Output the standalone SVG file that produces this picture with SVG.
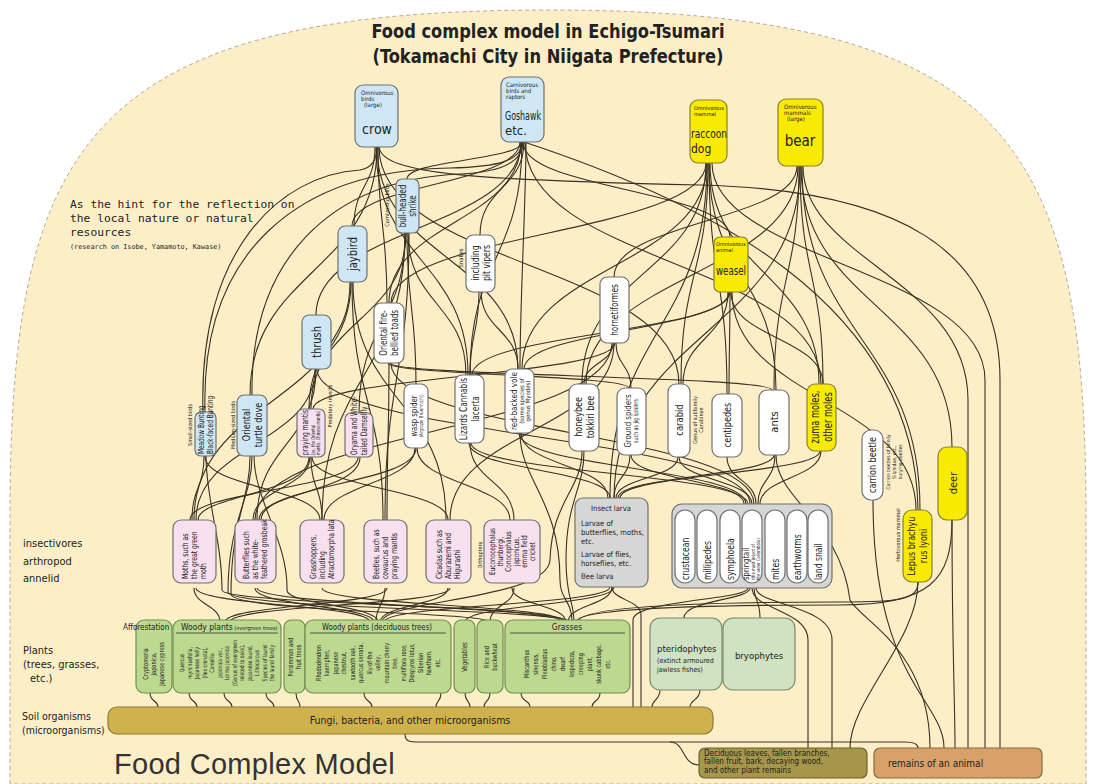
<svg xmlns="http://www.w3.org/2000/svg" width="1095" height="784" viewBox="0 0 1095 784">
<style>
.c{fill:none;stroke:#3a3122;stroke-width:1.1}
.n{stroke:#707070;stroke-width:1.2}
.blue{fill:#cfe6f4}
.yel{fill:#f8ea00;stroke:#8a8030}
.pink{fill:#f8e0f0}
.wht{fill:#ffffff}
.gry{fill:#d6d6d6}
.grn{fill:#bcd98f;stroke:#6f8f4f;stroke-width:1.2}
.pg{fill:#cfe3c3;stroke:#7a8a6a;stroke-width:1.2}
.t{font-family:"DejaVu Sans Condensed","Liberation Sans",sans-serif;fill:#222}
.m{font-family:"DejaVu Sans Mono","Liberation Mono",monospace;fill:#222}
.ul{stroke:#4a5a3a;stroke-width:1}
</style>
<rect width="1095" height="784" fill="#ffffff"/>
<path d="M10,784 L10,520 C10,150 80,10 548,10 C1016,10 1086,150 1086,520 L1086,784 Z" fill="#fcefc8" stroke="#b5ab98" stroke-dasharray="4 3"/>

<g id="title">
<text class="t" x="548" y="38" font-size="19" font-weight="bold" text-anchor="middle" textLength="353" lengthAdjust="spacingAndGlyphs">Food complex model in Echigo-Tsumari</text>
<text class="t" x="548" y="63" font-size="19" font-weight="bold" text-anchor="middle" textLength="351" lengthAdjust="spacingAndGlyphs">(Tokamachi City in Niigata Prefecture)</text>
</g>
<g id="hint">
<text class="m" x="70" y="208" font-size="11.3">As the hint for the reflection on</text>
<text class="m" x="70" y="222" font-size="11.3">the local nature or natural</text>
<text class="m" x="70" y="236" font-size="11.3">resources</text>
<text class="m" x="70" y="249" font-size="6.8">(research on Isobe, Yamamoto, Kawase)</text>
</g>
<g id="row-labels">
<text class="t" x="23" y="547" font-size="11">insectivores</text>
<text class="t" x="23" y="565" font-size="11">arthropod</text>
<text class="t" x="23" y="582" font-size="11">annelid</text>
<text class="t" x="23" y="654" font-size="11">Plants</text>
<text class="t" x="23" y="668" font-size="11">(trees, grasses,</text>
<text class="t" x="30" y="682" font-size="11">etc.)</text>
<text class="t" x="22" y="720" font-size="10.5">Soil organisms</text>
<text class="t" x="22" y="734" font-size="10.5">(microorganisms)</text>
<text x="114" y="774" font-family="Liberation Sans, sans-serif" font-size="29" fill="#333" letter-spacing="0.3">Food Complex Model</text>
</g>

<g id="connectors">
<path class="c" d="M407,179 C407,160 522,160 522,142"/>
<path class="c" d="M352,226 C352,184 520,184 520,142"/>
<path class="c" d="M316,315 C316,228 521,228 521,142"/>
<path class="c" d="M205,412 C200,250 300,170 450,168 C500,167 522,160 522,142"/>
<path class="c" d="M252,395 C250,260 330,180 460,174 C505,172 523,160 523,142"/>
<path class="c" d="M480,235 C480,188 524,188 524,142"/>
<path class="c" d="M520,369 C520,300 526,200 526,142"/>
<path class="c" d="M821,384 C821,263 525,263 525,142"/>
<path class="c" d="M918,510 C915,300 700,200 524,142"/>
<path class="c" d="M389,303 C389,222 521,222 521,142"/>
<path class="c" d="M730,237 C730,190 523,190 523,142"/>
<path class="c" d="M470,375 C470,258 522,258 522,142"/>
<path class="c" d="M203,412 C198,250 280,175 360,170 C372,168 377,160 377,147"/>
<path class="c" d="M250,395 C250,271 377,271 377,147"/>
<path class="c" d="M387,303 C387,225 378,225 378,147"/>
<path class="c" d="M468,375 C468,261 376,261 376,147"/>
<path class="c" d="M518,369 C518,258 377,258 377,147"/>
<path class="c" d="M354,226 C354,186 375,186 375,147"/>
<path class="c" d="M679,384 C679,265 379,265 379,147"/>
<path class="c" d="M1000,748 L1000,380 C1000,250 900,190 700,185 C480,180 382,175 379,147"/>
<path class="c" d="M391,303 C391,233 706,233 706,163"/>
<path class="c" d="M522,369 C522,266 707,266 707,163"/>
<path class="c" d="M681,384 C681,273 708,273 708,163"/>
<path class="c" d="M727,394 C727,278 709,278 709,163"/>
<path class="c" d="M819,384 C819,273 710,273 710,163"/>
<path class="c" d="M610,498 C610,330 707,330 707,163"/>
<path class="c" d="M582,384 C582,273 706,273 706,163"/>
<path class="c" d="M776,390 C776,276 709,276 709,163"/>
<path class="c" d="M985,748 L985,380 C985,270 712,260 712,163"/>
<path class="c" d="M586,384 C586,275 798,275 798,166"/>
<path class="c" d="M774,390 C774,278 799,278 799,166"/>
<path class="c" d="M614,498 C614,332 800,332 800,166"/>
<path class="c" d="M952,447 C952,306 801,306 801,166"/>
<path class="c" d="M920,510 C920,338 802,338 802,166"/>
<path class="c" d="M614,277 C614,221 797,221 797,166"/>
<path class="c" d="M823,384 C823,275 800,275 800,166"/>
<path class="c" d="M968,748 L968,400 C968,280 803,260 803,166"/>
<path class="c" d="M524,369 C524,330 729,330 729,292"/>
<path class="c" d="M472,375 C472,333 730,333 730,292"/>
<path class="c" d="M823,384 C823,338 731,338 731,292"/>
<path class="c" d="M729,394 C729,343 730,343 730,292"/>
<path class="c" d="M683,384 C683,338 728,338 728,292"/>
<path class="c" d="M916,510 C916,400 732,400 732,292"/>
<path class="c" d="M466,375 C466,304 408,304 408,233"/>
<path class="c" d="M311,409 C311,321 406,321 406,233"/>
<path class="c" d="M322,520 C322,376 405,376 405,233"/>
<path class="c" d="M385,520 C385,376 409,376 409,233"/>
<path class="c" d="M416,384 C416,308 407,308 407,233"/>
<path class="c" d="M359,413 C359,323 405,323 405,233"/>
<path class="c" d="M383,520 C383,401 352,401 352,282"/>
<path class="c" d="M446,520 C446,401 353,401 353,282"/>
<path class="c" d="M194,520 C194,401 351,401 351,282"/>
<path class="c" d="M309,409 C309,345 350,345 350,282"/>
<path class="c" d="M518,369 C518,330 481,330 481,291"/>
<path class="c" d="M470,375 C470,333 479,333 479,291"/>
<path class="c" d="M584,384 C584,363 613,363 613,343"/>
<path class="c" d="M255,520 C255,431 612,431 612,343"/>
<path class="c" d="M450,520 C450,431 614,431 614,343"/>
<path class="c" d="M313,409 C313,376 615,376 615,343"/>
<path class="c" d="M631,388 C631,365 616,365 616,343"/>
<path class="c" d="M196,520 C196,444 315,444 315,369"/>
<path class="c" d="M257,520 C257,444 316,444 316,369"/>
<path class="c" d="M750,504 C750,436 317,436 317,369"/>
<path class="c" d="M772,390 C772,376 390,376 390,363"/>
<path class="c" d="M629,388 C629,375 388,375 388,363"/>
<path class="c" d="M387,520 C387,441 389,441 389,363"/>
<path class="c" d="M754,504 C754,433 391,433 391,363"/>
<path class="c" d="M320,520 C320,488 205,488 205,456"/>
<path class="c" d="M568,622 C568,605 222,605 222,590 C222,540 206,500 206,456"/>
<path class="c" d="M192,520 C192,488 204,488 204,456"/>
<path class="c" d="M570,622 C570,609 228,609 228,592 C228,520 252,500 252,456"/>
<path class="c" d="M490,622 C490,612 231,612 231,594 C231,520 250,500 250,456"/>
<path class="c" d="M378,622 C378,605 286,605 287,590 C288,540 254,500 254,456"/>
<path class="c" d="M253,520 C253,488 310,488 310,457"/>
<path class="c" d="M322,520 C322,488 311,488 311,457"/>
<path class="c" d="M448,520 C448,488 312,488 312,457"/>
<path class="c" d="M198,520 C198,495 309,495 309,457"/>
<path class="c" d="M190,520 C190,490 358,490 358,457"/>
<path class="c" d="M259,520 C259,492 360,492 360,457"/>
<path class="c" d="M324,520 C324,484 415,484 415,448"/>
<path class="c" d="M261,520 C261,484 416,484 416,448"/>
<path class="c" d="M510,520 C510,484 417,484 417,448"/>
<path class="c" d="M514,520 C514,481 470,481 470,443"/>
<path class="c" d="M748,504 C748,473 471,473 471,443"/>
<path class="c" d="M610,498 C610,470 469,470 469,443"/>
<path class="c" d="M572,622 C572,600 560,600 560,580 C560,500 520,480 520,433"/>
<path class="c" d="M608,498 C608,465 521,465 521,433"/>
<path class="c" d="M746,504 C746,468 519,468 519,433"/>
<path class="c" d="M574,622 C574,600 566,600 566,560 C566,500 584,490 584,451"/>
<path class="c" d="M382,622 C382,600 548,600 550,560 C552,500 582,490 582,451"/>
<path class="c" d="M744,504 C744,480 631,480 631,455"/>
<path class="c" d="M614,498 C614,477 630,477 630,455"/>
<path class="c" d="M752,504 C752,480 679,480 679,457"/>
<path class="c" d="M616,498 C616,478 678,478 678,457"/>
<path class="c" d="M756,504 C756,480 727,480 727,457"/>
<path class="c" d="M618,498 C618,476 774,476 774,455"/>
<path class="c" d="M758,504 C758,480 775,480 775,455"/>
<path class="c" d="M930,748 C930,650 860,620 850,600 C840,520 776,500 776,455"/>
<path class="c" d="M760,504 C760,478 821,478 821,451"/>
<path class="c" d="M620,498 C620,474 820,474 820,451"/>
<path class="c" d="M944,748 C944,700 873,680 873,500"/>
<path class="c" d="M576,622 C576,612 640,605 840,605 C930,605 952,580 952,520"/>
<path class="c" d="M955,748 C955,700 952,650 952,520"/>
<path class="c" d="M578,622 C578,610 650,602 840,602 C900,602 918,600 918,582"/>
<path class="c" d="M850,748 C850,700 918,640 918,582"/>
<path class="c" d="M220,622 C220,605 194,605 194,588"/>
<path class="c" d="M370,622 C370,605 196,605 196,588"/>
<path class="c" d="M374,622 C374,606 255,606 255,588"/>
<path class="c" d="M562,622 C562,606 257,606 257,588"/>
<path class="c" d="M564,622 C564,605 322,605 322,588"/>
<path class="c" d="M376,622 C376,605 385,605 385,588"/>
<path class="c" d="M225,622 C225,605 387,605 387,588"/>
<path class="c" d="M380,622 C380,605 448,605 448,588"/>
<path class="c" d="M230,622 C230,605 450,605 450,588"/>
<path class="c" d="M566,622 C566,605 512,605 512,588"/>
<path class="c" d="M490,622 C490,605 514,605 514,588"/>
<path class="c" d="M384,622 C384,605 610,605 610,587"/>
<path class="c" d="M568,622 C568,605 612,605 612,587"/>
<path class="c" d="M465,622 C465,605 614,605 614,587"/>
<path class="c" d="M684,618 C684,600 750,600 750,588"/>
<path class="c" d="M760,618 C760,600 754,600 754,588"/>
<path class="c" d="M808,748 L808,640 C808,610 752,610 752,588"/>
<path class="c" d="M832,748 L832,640 C832,605 756,605 756,588"/>
<path class="c" d="M633,707 L633,620 C633,600 748,600 748,588"/>
<path class="c" d="M641,707 L641,615 C641,600 612,600 612,587"/>
<path class="c" d="M150,693 C150,702 158,700 158,707"/>
<path class="c" d="M189,693 C189,702 197,700 197,707"/>
<path class="c" d="M224,693 C224,702 232,700 232,707"/>
<path class="c" d="M266,693 C266,702 274,700 274,707"/>
<path class="c" d="M296,693 C296,702 300,700 300,707"/>
<path class="c" d="M364,693 C364,702 372,700 372,707"/>
<path class="c" d="M441,693 C441,702 436,700 436,707"/>
<path class="c" d="M465,693 C465,702 470,700 470,707"/>
<path class="c" d="M490,693 C490,702 484,700 484,707"/>
<path class="c" d="M521,693 C521,702 530,700 530,707"/>
<path class="c" d="M600,693 C600,702 592,700 592,707"/>
<path class="c" d="M660,690 C660,700 652,700 652,707"/>
<path class="c" d="M700,690 C700,700 690,700 690,707"/>
<path class="c" d="M405,734 C405,742 410,742 420,742 L905,742 C915,742 918,745 918,748"/>
<path class="c" d="M670,742 C685,742 682,765 699,765"/>
</g>

<g id="crow"><rect class="n blue" x="355" y="85" width="43" height="62" rx="8"/>
<text class="t" font-size="6"><tspan x="361" y="95">Omnivorous</tspan><tspan x="361" y="101">birds</tspan><tspan x="364" y="107">(large)</tspan></text>
<text class="t" x="377" y="134" font-size="14" text-anchor="middle">crow</text></g>
<g id="goshawk"><rect class="n blue" x="501" y="77" width="43" height="65" rx="8"/>
<text class="t" font-size="6"><tspan x="506" y="87">Carnivorous</tspan><tspan x="506" y="93">birds and</tspan><tspan x="506" y="99">raptors</tspan></text>
<text class="t" x="505" y="120" font-size="13" textLength="36" lengthAdjust="spacingAndGlyphs">Goshawk</text>
<text class="t" x="505" y="135" font-size="13">etc.</text></g>
<g id="raccoon-dog"><rect class="n yel" x="690" y="100" width="37" height="63" rx="8"/>
<text class="t" font-size="5.5"><tspan x="694" y="110">Omnivorous</tspan><tspan x="694" y="116">mammal</tspan></text>
<text class="t" x="691" y="138" font-size="12" textLength="36" lengthAdjust="spacingAndGlyphs">raccoon</text>
<text class="t" x="691" y="153" font-size="12">dog</text></g>
<g id="bear"><rect class="n yel" x="778" y="99" width="45" height="67" rx="8"/>
<text class="t" font-size="6"><tspan x="784" y="109">Omnivorous</tspan><tspan x="784" y="115">mammals</tspan><tspan x="787" y="121">(large)</tspan></text>
<text class="t" x="800" y="146" font-size="15" text-anchor="middle">bear</text></g>
<g id="weasel"><rect class="n yel" x="714" y="237" width="34" height="55" rx="6"/>
<text class="t" font-size="5.5"><tspan x="716" y="246">Omnivorous</tspan><tspan x="716" y="252">animal</tspan></text>
<text class="t" x="716" y="275" font-size="12" textLength="30" lengthAdjust="spacingAndGlyphs">weasel</text></g>

<g id="shrike"><rect class="n blue" x="396" y="179" width="23" height="54" rx="6"/>
<text class="t" font-size="10" text-anchor="middle" transform="translate(407.5,206) rotate(-90) scale(0.8,1)"><tspan x="0" y="-2">bull-headed</tspan><tspan x="0" y="9">shrike</tspan></text>
<text class="t" font-size="5.5" text-anchor="middle" transform="translate(389,205) rotate(-90)">Carnivorous birds</text></g>
<g id="jaybird"><rect class="n blue" x="338" y="226" width="29" height="56" rx="7"/>
<text class="t" font-size="13" text-anchor="middle" transform="translate(352.5,254) rotate(-90) scale(0.85,1)" y="4.5">jaybird</text></g>
<g id="pit-vipers"><rect class="n wht" x="466" y="235" width="29" height="57" rx="7"/>
<text class="t" font-size="10.5" text-anchor="middle" transform="translate(480.5,263) rotate(-90) scale(0.82,1)"><tspan x="0" y="-2">including</tspan><tspan x="0" y="9.5">pit vipers</tspan></text>
<text class="t" font-size="6" text-anchor="middle" transform="translate(461,258) rotate(-90)" y="2">Snakes</text></g>
<g id="hornetiformes"><rect class="n wht" x="600" y="277" width="29" height="66" rx="7"/>
<text class="t" font-size="10" text-anchor="middle" transform="translate(614.5,310) rotate(-90) scale(0.82,1)" y="3.5">hornetiformes</text></g>
<g id="thrush"><rect class="n blue" x="302" y="315" width="29" height="54" rx="7"/>
<text class="t" font-size="13" text-anchor="middle" transform="translate(316.5,342) rotate(-90) scale(0.85,1)" y="4.5">thrush</text></g>
<g id="toads"><rect class="n wht" x="374" y="303" width="30" height="60" rx="7"/>
<text class="t" font-size="10" text-anchor="middle" transform="translate(389,333) rotate(-90) scale(0.8,1)"><tspan x="0" y="-2">Oriental fire-</tspan><tspan x="0" y="9">bellied toads</tspan></text></g>
<g id="buntings"><rect class="n blue" x="195" y="412" width="21" height="44" rx="6"/>
<text class="t" font-size="8.5" transform="translate(205.5,454) rotate(-90) scale(0.76,1)"><tspan x="0" y="-1.5">Meadow Bunting</tspan><tspan x="0" y="8">Black-faced Bunting</tspan></text>
<text class="t" font-size="5.5" text-anchor="middle" transform="translate(190,425) rotate(-90)" y="2">Small-sized birds</text></g>
<g id="turtle-dove"><rect class="n blue" x="237" y="395" width="30" height="61" rx="7"/>
<text class="t" font-size="11" text-anchor="middle" transform="translate(252,425) rotate(-90) scale(0.82,1)"><tspan x="0" y="-2.2">Oriental</tspan><tspan x="0" y="9.8">turtle dove</tspan></text>
<text class="t" font-size="5.5" text-anchor="middle" transform="translate(233,425) rotate(-90)" y="2">Medium-sized birds</text></g>
<g id="praying-mantis"><rect class="n pink" x="297" y="409" width="28" height="48" rx="6"/>
<text class="t" transform="translate(311,455) rotate(-90) scale(0.74,1)"><tspan x="0" y="-3" font-size="9">praying mantis</tspan><tspan x="0" y="3.5" font-size="5.5">(ex. the Oriental</tspan><tspan x="0" y="9.5" font-size="5.5">mantis, Chinese mantis)</tspan></text>
<text class="t" font-size="5.5" text-anchor="middle" transform="translate(330,406) rotate(-90)" y="2">Predatory insects</text></g>
<g id="damselfly"><rect class="n pink" x="345" y="413" width="28" height="44" rx="6"/>
<text class="t" font-size="9" transform="translate(359,455) rotate(-90) scale(0.74,1)"><tspan x="0" y="-2">Oryama and White-</tspan><tspan x="0" y="8">tailed Damselfly</tspan></text></g>
<g id="wasp-spider"><rect class="n wht" x="404" y="384" width="24" height="64" rx="7"/>
<text class="t" text-anchor="middle" transform="translate(416,416) rotate(-90) scale(0.85,1)"><tspan x="0" y="0.5" font-size="9">wasp spider</tspan><tspan x="0" y="7" font-size="5.5">(Argiope Bruennichi)</tspan></text></g>
<g id="lizards"><rect class="n wht" x="455" y="375" width="29" height="68" rx="7"/>
<text class="t" font-size="10.5" text-anchor="middle" transform="translate(469.5,409) rotate(-90) scale(0.78,1)"><tspan x="0" y="-2.3">Lizards Cannabis</tspan><tspan x="0" y="9.7">lacerta</tspan></text></g>
<g id="red-backed-vole"><rect class="n wht" x="505" y="369" width="29" height="64" rx="7"/>
<text class="t" text-anchor="middle" transform="translate(519.5,401) rotate(-90)"><tspan x="0" y="-3" font-size="9.5" textLength="58" lengthAdjust="spacingAndGlyphs">red-backed vole</tspan><tspan x="0" y="4" font-size="6">(some species of</tspan><tspan x="0" y="10" font-size="6">genus Myodes)</tspan></text></g>
<g id="honeybee"><rect class="n wht" x="569" y="384" width="30" height="67" rx="8"/>
<text class="t" font-size="10.5" text-anchor="middle" transform="translate(584,417) rotate(-90) scale(0.85,1)"><tspan x="0" y="-2.3">honeybee</tspan><tspan x="0" y="9.7">tokkiri bee</tspan></text></g>
<g id="ground-spiders"><rect class="n wht" x="617" y="388" width="29" height="67" rx="8"/>
<text class="t" text-anchor="middle" transform="translate(631.5,421) rotate(-90) scale(0.82,1)"><tspan x="0" y="-1" font-size="9.5">Ground spiders</tspan><tspan x="0" y="7" font-size="6.5">such as jig spiders</tspan></text></g>
<g id="carabid"><rect class="n wht" x="668" y="384" width="22" height="73" rx="8"/>
<text class="t" font-size="11" text-anchor="middle" transform="translate(679,420) rotate(-90) scale(0.85,1)" y="4">carabid</text>
<text class="t" font-size="5.5" text-anchor="middle" transform="translate(697,420) rotate(-90)"><tspan x="0" y="0">Genus of subfamily</tspan><tspan x="0" y="6">Carabinae</tspan></text></g>
<g id="centipedes"><rect class="n wht" x="712" y="394" width="30" height="63" rx="8"/>
<text class="t" font-size="11" text-anchor="middle" transform="translate(727,425) rotate(-90) scale(0.82,1)" y="4">centipedes</text></g>
<g id="ants"><rect class="n wht" x="759" y="390" width="30" height="65" rx="8"/>
<text class="t" font-size="11" text-anchor="middle" transform="translate(774,422) rotate(-90)" y="4">ants</text></g>
<g id="moles"><rect class="n yel" x="807" y="384" width="29" height="67" rx="8"/>
<text class="t" font-size="11.5" text-anchor="middle" transform="translate(821.5,417) rotate(-90) scale(0.8,1)"><tspan x="0" y="-2.2">zuma moles,</tspan><tspan x="0" y="10.3">other moles</tspan></text></g>
<g id="carrion-beetle"><rect class="n wht" x="862" y="430" width="21" height="70" rx="9"/>
<text class="t" font-size="10.5" text-anchor="middle" transform="translate(872.5,465) rotate(-90) scale(0.85,1)" y="3.7">carrion beetle</text>
<text class="t" font-size="5" text-anchor="middle" transform="translate(890,462) rotate(-90)"><tspan x="0" y="0">Carrion beetles of family</tspan><tspan x="0" y="6">Silphidae, etc.,</tspan><tspan x="0" y="12">burying beetles</tspan></text></g>
<g id="deer"><rect class="n yel" x="938" y="447" width="29" height="73" rx="9"/>
<text class="t" font-size="11" text-anchor="middle" transform="translate(952.5,483) rotate(-90)" y="4">deer</text></g>
<g id="lepus"><rect class="n yel" x="903" y="510" width="29" height="72" rx="9"/>
<text class="t" font-size="10.5" text-anchor="middle" transform="translate(917.5,546) rotate(-90) scale(0.85,1)"><tspan x="0" y="-2.2">Lepus brachyu</tspan><tspan x="0" y="9.8">rus lyoni</tspan></text>
<text class="t" font-size="5.5" text-anchor="middle" transform="translate(898,535) rotate(-90)" y="2">Herbivorous mammal</text></g>

<g id="moths"><rect class="n pink" x="173" y="520" width="43" height="63" rx="8"/>
<text class="t" font-size="8.5" transform="translate(194.5,579) rotate(-90) scale(0.8,1)"><tspan x="0" y="-6.2">Moths, such as</tspan><tspan x="0" y="2.8">the great green</tspan><tspan x="0" y="11.8">moth</tspan></text></g>
<g id="butterflies"><rect class="n pink" x="235" y="520" width="41" height="63" rx="8"/>
<text class="t" font-size="8.5" transform="translate(255.5,579) rotate(-90) scale(0.8,1)"><tspan x="0" y="-6.2">Butterflies such</tspan><tspan x="0" y="2.8">as the white-</tspan><tspan x="0" y="11.8">feathered grosbeak</tspan></text></g>
<g id="grasshoppers"><rect class="n pink" x="300" y="520" width="44" height="63" rx="8"/>
<text class="t" font-size="8.5" transform="translate(322,579) rotate(-90) scale(0.8,1)"><tspan x="0" y="-6.2">Grasshoppers,</tspan><tspan x="0" y="2.8">including</tspan><tspan x="0" y="11.8">Atractomorpha lata</tspan></text></g>
<g id="beetles"><rect class="n pink" x="364" y="520" width="43" height="63" rx="8"/>
<text class="t" font-size="8.5" transform="translate(385.5,579) rotate(-90) scale(0.8,1)"><tspan x="0" y="-6.2">Beetles, such as</tspan><tspan x="0" y="2.8">cowaurus and</tspan><tspan x="0" y="11.8">praying mantis</tspan></text></g>
<g id="cicadas"><rect class="n pink" x="426" y="520" width="45" height="63" rx="8"/>
<text class="t" font-size="8.5" transform="translate(448.5,579) rotate(-90) scale(0.8,1)"><tspan x="0" y="-6.2">Cicadas such as</tspan><tspan x="0" y="2.8">Aburazemi and</tspan><tspan x="0" y="11.8">Higurashi</tspan></text></g>
<g id="orthoptera"><rect class="n pink" x="484" y="520" width="56" height="63" rx="8"/>
<text class="t" font-size="8" text-anchor="middle" transform="translate(512,551.5) rotate(-90) scale(0.8,1)"><tspan x="0" y="-17.4">Euconocephalus</tspan><tspan x="0" y="-9.4">thunbergi,</tspan><tspan x="0" y="-1.4">Conocephalus</tspan><tspan x="0" y="6.6">japonicus,</tspan><tspan x="0" y="14.6">emma field</tspan><tspan x="0" y="22.6">cricket</tspan></text>
<text class="t" font-size="5.5" text-anchor="middle" transform="translate(480,555) rotate(-90)" y="2">Orthoptera</text></g>

<g id="insect-larva"><rect class="n gry" x="575" y="498" width="73" height="89" rx="8"/>
<text class="t" font-size="7.6"><tspan x="611" y="511" text-anchor="middle">Insect larva</tspan><tspan x="581" y="526">Larvae of</tspan><tspan x="581" y="535">butterflies, moths,</tspan><tspan x="581" y="544">etc.</tspan><tspan x="581" y="557">Larvae of flies,</tspan><tspan x="581" y="566">horseflies, etc.</tspan><tspan x="581" y="579">Bee larva</tspan></text></g>

<g id="soil-animals"><rect class="n gry" x="672" y="504" width="160" height="84" rx="10"/>
<rect class="n wht" x="675" y="510" width="20" height="73" rx="10"/>
<rect class="n wht" x="697" y="510" width="20" height="73" rx="10"/>
<rect class="n wht" x="720" y="510" width="20" height="73" rx="10"/>
<rect class="n wht" x="742" y="510" width="20" height="73" rx="10"/>
<rect class="n wht" x="765" y="510" width="20" height="73" rx="10"/>
<rect class="n wht" x="787" y="510" width="20" height="73" rx="10"/>
<rect class="n wht" x="808" y="510" width="20" height="73" rx="10"/>
<text class="t" font-size="10" transform="translate(688.5,580) rotate(-90) scale(0.85,1)">crustacean</text>
<text class="t" font-size="10" transform="translate(710.5,580) rotate(-90) scale(0.85,1)">millipedes</text>
<text class="t" font-size="10" transform="translate(733.5,580) rotate(-90) scale(0.85,1)">symphoela</text>
<text class="t" transform="translate(752,580) rotate(-90) scale(0.85,1)"><tspan x="0" y="-3" font-size="9">springtail</tspan><tspan x="0" y="3" font-size="5">(the most insect of</tspan><tspan x="0" y="8" font-size="5">the order Collembola)</tspan></text>
<text class="t" font-size="10" transform="translate(778.5,580) rotate(-90) scale(0.85,1)">mites</text>
<text class="t" font-size="10" transform="translate(800.5,580) rotate(-90) scale(0.85,1)">earthworms</text>
<text class="t" font-size="10" transform="translate(821.5,580) rotate(-90) scale(0.85,1)">land snail</text></g>

<g id="afforestation"><rect class="grn" x="136" y="620" width="36" height="73" rx="8"/>
<text class="t" font-size="7" text-anchor="middle" transform="translate(154,664) rotate(-90) scale(0.8,1)"><tspan x="0" y="-5.7">Cryptomeria</tspan><tspan x="0" y="2.3">Japonica,</tspan><tspan x="0" y="10.3">Japanese cypress</tspan></text>
<text class="t" x="123" y="630" font-size="8">Afforestation</text></g>
<g id="evergreen"><rect class="grn" x="173" y="620" width="108" height="73" rx="8"/>
<text class="t" x="181" y="630" font-size="8.5">Woody plants<tspan font-size="5.5"> (evergreen trees)</tspan></text>
<line class="ul" x1="176" y1="633" x2="278" y2="633"/>
<text class="t" font-size="6.2" text-anchor="middle" transform="translate(227,663) rotate(-90) scale(0.8,1)"><tspan x="0" y="-42.9">Quercus</tspan><tspan x="0" y="-35.4">myrsinaefolia,</tspan><tspan x="0" y="-27.9">Japanese holly</tspan><tspan x="0" y="-20.4">(Ilex crenata),</tspan><tspan x="0" y="-12.9">Camellia</tspan><tspan x="0" y="-5.4">japonica var.,</tspan><tspan x="0" y="2.1">Lorma japonica</tspan><tspan x="0" y="9.6">(Genus of evergreen</tspan><tspan x="0" y="17.1">related to oaks),</tspan><tspan x="0" y="24.6">Japanese laurel,</tspan><tspan x="0" y="32.1">Lithocarpus</tspan><tspan x="0" y="39.6">Species of laurel</tspan><tspan x="0" y="47.1">the laurel family</tspan></text></g>
<g id="persimmon"><rect class="grn" x="284" y="620" width="21" height="73" rx="7"/>
<text class="t" font-size="7" text-anchor="middle" transform="translate(294.5,657) rotate(-90) scale(0.8,1)"><tspan x="0" y="-1.5">Persimmon and</tspan><tspan x="0" y="6.5">fruit trees</tspan></text></g>
<g id="deciduous"><rect class="grn" x="305" y="620" width="146" height="73" rx="8"/>
<text class="t" x="322" y="630" font-size="8.5" textLength="110" lengthAdjust="spacingAndGlyphs">Woody plants (deciduous trees)</text>
<line class="ul" x1="310" y1="633" x2="446" y2="633"/>
<text class="t" font-size="6.8" text-anchor="middle" transform="translate(378,663) rotate(-90) scale(0.8,1)"><tspan x="0" y="-57.4">Rhododendron</tspan><tspan x="0" y="-48.9">kaempferi,</tspan><tspan x="0" y="-40.4">Japanese</tspan><tspan x="0" y="-31.9">chestnut,</tspan><tspan x="0" y="-23.4">sawtooth oak,</tspan><tspan x="0" y="-14.9">quercus serrata,</tspan><tspan x="0" y="-6.4">lily-of-the</tspan><tspan x="0" y="2.1">valley,</tspan><tspan x="0" y="10.6">mountain cherry</tspan><tspan x="0" y="19.1">tree,</tspan><tspan x="0" y="27.6">multiflora rose,</tspan><tspan x="0" y="36.1">Diospyros lotus,</tspan><tspan x="0" y="44.6">Siberian</tspan><tspan x="0" y="53.1">hawthorn,</tspan><tspan x="0" y="61.6">etc.</tspan></text></g>
<g id="vegetables"><rect class="grn" x="454" y="620" width="21" height="73" rx="7"/>
<text class="t" font-size="7.5" text-anchor="middle" transform="translate(464.5,657) rotate(-90) scale(0.8,1)" y="2.5">Vegetables</text></g>
<g id="rice"><rect class="grn" x="477" y="620" width="26" height="73" rx="7"/>
<text class="t" font-size="7" text-anchor="middle" transform="translate(490,657) rotate(-90) scale(0.8,1)"><tspan x="0" y="-1.5">Rice and</tspan><tspan x="0" y="6.5">buckwheat</tspan></text></g>
<g id="grasses"><rect class="grn" x="505" y="620" width="125" height="73" rx="8"/>
<text class="t" x="567" y="630" font-size="8.5" text-anchor="middle">Grasses</text>
<line class="ul" x1="510" y1="633" x2="625" y2="633"/>
<text class="t" font-size="7" text-anchor="middle" transform="translate(567,664) rotate(-90) scale(0.8,1)"><tspan x="0" y="-38.2">Miscanthus</tspan><tspan x="0" y="-29.2">sinensis,</tspan><tspan x="0" y="-20.2">Pleioblastus</tspan><tspan x="0" y="-11.2">chino,</tspan><tspan x="0" y="-2.2">dwarf</tspan><tspan x="0" y="6.8">lespedeza,</tspan><tspan x="0" y="15.8">creeping</tspan><tspan x="0" y="24.8">plant,</tspan><tspan x="0" y="33.8">skunk cabbage,</tspan><tspan x="0" y="42.8">etc.</tspan></text></g>
<g id="pteridophytes"><rect class="pg" x="650" y="618" width="72" height="72" rx="10"/>
<text class="t" x="657" y="652" font-size="9.5">pteridophytes</text>
<text class="t" font-size="7"><tspan x="657" y="663">(extinct armoured</tspan><tspan x="657" y="672">jawless fishes)</tspan></text></g>
<g id="bryophytes"><rect class="pg" x="723" y="618" width="72" height="72" rx="10"/>
<text class="t" x="759" y="659" font-size="9.5" text-anchor="middle">bryophytes</text></g>

<g id="fungi"><rect x="108" y="707" width="605" height="27" rx="9" fill="#cfb24e" stroke="#8c7a30" stroke-width="1.2"/>
<text class="t" x="410" y="724" font-size="10.5" text-anchor="middle">Fungi, bacteria, and other microorganisms</text></g>
<g id="plant-remains"><rect x="699" y="748" width="168" height="30" rx="6" fill="#a6964a" stroke="#6e6030" stroke-width="1.2"/>
<text class="t" font-size="8"><tspan x="704" y="756">Deciduous leaves, fallen branches,</tspan><tspan x="704" y="764">fallen fruit, bark, decaying wood,</tspan><tspan x="704" y="773">and other plant remains</tspan></text></g>
<g id="animal-remains"><rect x="874" y="748" width="168" height="30" rx="6" fill="#d8a16a" stroke="#8a6a40" stroke-width="1.2"/>
<text class="t" x="888" y="767" font-size="10">remains of an animal</text></g>
</svg>
